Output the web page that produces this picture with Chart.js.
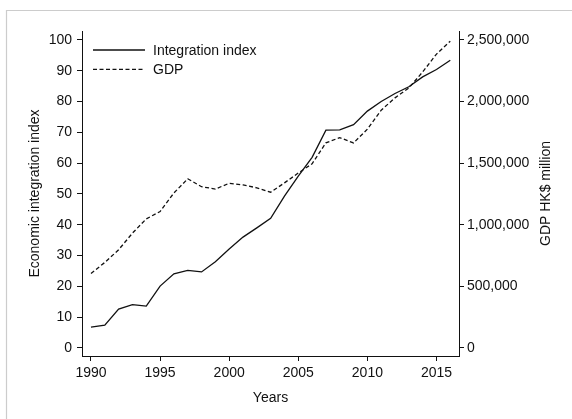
<!DOCTYPE html>
<html>
<head>
<meta charset="utf-8">
<script src="https://cdn.jsdelivr.net/npm/chart.js@4/dist/chart.umd.min.js"></script>
<style>
  html, body { margin: 0; padding: 0; background: #ffffff; }
  #wrap { position: relative; width: 572px; height: 419px; }
</style>
</head>
<body>
<div id="wrap"><canvas id="c" width="572" height="419"></canvas></div>
<script>
// Hong Kong: economic integration index vs. GDP, 1990-2016
const years = [1990, 1991, 1992, 1993, 1994, 1995, 1996, 1997, 1998, 1999,
               2000, 2001, 2002, 2003, 2004, 2005, 2006, 2007, 2008, 2009,
               2010, 2011, 2012, 2013, 2014, 2015, 2016];
const integrationIndex = [6.8, 7.4, 12.6, 14.1, 13.6, 20.1, 24.1, 25.2, 24.7, 28.0,
                          32.1, 36.0, 39.0, 42.1, 49.3, 55.8, 61.9, 70.7, 70.8, 72.5,
                          76.9, 80.0, 82.6, 84.8, 88.0, 90.4, 93.4];
const gdpMillions = [605000, 694000, 797000, 932000, 1048000, 1107000, 1258000, 1373000, 1309000, 1290000,
                     1337000, 1323000, 1300000, 1264000, 1340000, 1420000, 1495000, 1665000, 1707000, 1664000,
                     1776000, 1930000, 2030000, 2110000, 2240000, 2385000, 2490000];
const yearTicks = [1990, 1995, 2000, 2005, 2010, 2015];
const indexTicks = [0, 10, 20, 30, 40, 50, 60, 70, 80, 90, 100];
const gdpTicks = [0, 500000, 1000000, 1500000, 2000000, 2500000];

const seriesLabels = ['Integration index', 'GDP'];
const axisTitles = { x: 'Years', left: 'Economic integration index', right: 'GDP HK$ million' };

const FONT = '"Liberation Sans", Arial, Helvetica, sans-serif';
const INK = '#111111';

// outer frame (only the top and left edges fall inside the canvas)
const framePlugin = {
  id: 'frame',
  beforeDraw(chart) {
    const ctx = chart.ctx;
    ctx.save();
    ctx.fillStyle = '#ffffff';
    ctx.fillRect(0, 0, chart.width, chart.height);
    ctx.strokeStyle = '#cccccc';
    ctx.lineWidth = 1.2;
    ctx.beginPath();
    ctx.moveTo(6.5, chart.height);
    ctx.lineTo(6.5, 10.5);
    ctx.lineTo(chart.width, 10.5);
    ctx.stroke();
    ctx.restore();
  }
};

// axis titles and legend drawn inside the plot
const annotatePlugin = {
  id: 'annotate',
  afterDraw(chart) {
    const ctx = chart.ctx;
    const area = chart.chartArea;
    const midY = (area.top + area.bottom) / 2;
    ctx.save();
    ctx.fillStyle = INK;
    ctx.font = '14px ' + FONT;
    ctx.textAlign = 'center';
    ctx.textBaseline = 'alphabetic';
    ctx.fillText(axisTitles.x, (area.left + area.right) / 2, 402);

    ctx.save();
    ctx.translate(38.5, midY);
    ctx.rotate(-Math.PI / 2);
    ctx.fillText(axisTitles.left, 0, 0);
    ctx.restore();

    ctx.save();
    ctx.translate(549.5, midY);
    ctx.rotate(-Math.PI / 2);
    ctx.fillText(axisTitles.right, 0, 0);
    ctx.restore();

    // legend
    const rows = [50, 69.3];
    chart.data.datasets.forEach((ds, i) => {
      const y = rows[i];
      ctx.strokeStyle = ds.borderColor;
      ctx.lineWidth = ds.borderWidth;
      ctx.setLineDash(ds.borderDash || []);
      ctx.beginPath();
      ctx.moveTo(area.left + 11, y);
      ctx.lineTo(area.left + 63, y);
      ctx.stroke();
      ctx.setLineDash([]);
      ctx.textAlign = 'left';
      ctx.fillText(ds.label, area.left + 71, y + 5);
    });
    ctx.restore();
  }
};

const tickFont = { family: FONT, size: 14 };
const tickGrid = { display: true, drawOnChartArea: false, drawTicks: true, tickLength: 5, color: INK, lineWidth: 1 };
const axisBorder = { display: true, color: INK, width: 1 };

new Chart(document.getElementById('c'), {
  type: 'line',
  data: {
    datasets: [
      {
        label: seriesLabels[0],
        data: years.map((y, i) => ({ x: y, y: integrationIndex[i] })),
        yAxisID: 'y',
        borderColor: INK,
        borderWidth: 1.3,
        pointRadius: 0,
        tension: 0,
        fill: false
      },
      {
        label: seriesLabels[1],
        data: years.map((y, i) => ({ x: y, y: gdpMillions[i] })),
        yAxisID: 'y2',
        borderColor: INK,
        borderWidth: 1.3,
        borderDash: [4, 2.5],
        pointRadius: 0,
        tension: 0,
        fill: false
      }
    ]
  },
  options: {
    responsive: false,
    animation: false,
    devicePixelRatio: 1,
    layout: { padding: { top: 31, left: 0, right: 0, bottom: 0 } },
    plugins: { legend: { display: false }, tooltip: { enabled: false } },
    scales: {
      x: {
        type: 'linear',
        min: 1989.35,
        max: 2016.63,
        afterBuildTicks: s => { s.ticks = yearTicks.map(v => ({ value: v })); },
        afterFit: s => { s.height = 63; },
        ticks: { font: tickFont, color: INK, padding: 4, maxRotation: 0, autoSkip: false, callback: v => String(v) },
        grid: tickGrid,
        border: axisBorder
      },
      y: {
        type: 'linear',
        position: 'left',
        min: -2.6,
        max: 102.9,
        afterBuildTicks: s => { s.ticks = indexTicks.map(v => ({ value: v })); },
        afterFit: s => { s.width = 82; },
        ticks: { font: tickFont, color: INK, padding: 5, autoSkip: false, callback: v => String(v) },
        grid: tickGrid,
        border: axisBorder
      },
      y2: {
        type: 'linear',
        position: 'right',
        min: -65000,
        max: 2572500,
        afterBuildTicks: s => { s.ticks = gdpTicks.map(v => ({ value: v })); },
        afterFit: s => { s.width = 113; },
        ticks: { font: tickFont, color: INK, padding: 3, autoSkip: false, callback: v => v.toLocaleString('en-US') },
        grid: tickGrid,
        border: axisBorder
      }
    }
  },
  plugins: [framePlugin, annotatePlugin]
});
</script>
</body>
</html>
